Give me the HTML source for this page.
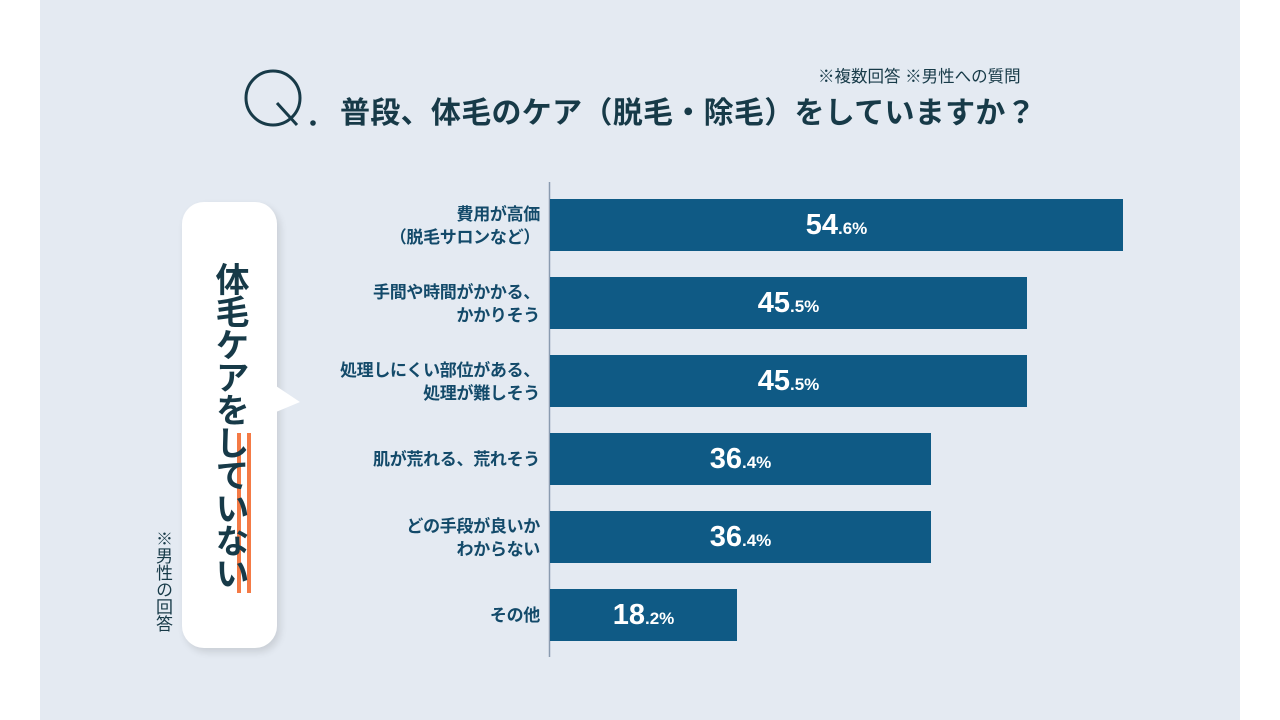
<!DOCTYPE html>
<html><head><meta charset="utf-8"><style>
body{margin:0;width:1280px;height:720px;background:#fff;position:relative;overflow:hidden;font-family:"Liberation Sans","Noto Sans CJK JP",sans-serif;}
.panel{position:absolute;left:40px;top:0;width:1200px;height:720px;background:#e4eaf2;}
.abs{position:absolute;}
.title{left:340px;top:88px;font-size:30px;font-weight:bold;color:#173a48;white-space:nowrap;letter-spacing:0.3px;}
.note{left:818px;top:63px;font-size:16.5px;color:#173a48;white-space:nowrap;}
.bar{position:absolute;left:550px;height:52px;background:#0f5a85;color:#fff;font-weight:bold;display:flex;align-items:center;justify-content:center;}
.bar b{font-size:29px;}.bar s{text-decoration:none;font-size:17px;margin-top:8px;}
.lab{position:absolute;right:740px;text-align:right;font-size:17px;font-weight:bold;color:#134a6a;line-height:23px;white-space:nowrap;letter-spacing:-0.3px;}
.bubble{left:182px;top:202px;width:95px;height:446px;background:#fff;border-radius:22px;box-shadow:3px 4px 8px rgba(0,0,0,0.12);}
.vt{left:210px;top:262px;writing-mode:vertical-rl;font-size:34px;font-weight:bold;color:#173a48;line-height:38px;letter-spacing:-1.3px;}
.vn{left:150px;top:530px;writing-mode:vertical-rl;font-size:17px;color:#173a48;}
</style></head><body>
<div class="panel"></div>
<svg class="abs" style="left:0;top:0" width="1280" height="720">
<circle cx="273" cy="98" r="27" fill="none" stroke="#173a48" stroke-width="3"/>
<line x1="277" y1="103" x2="297" y2="125" stroke="#173a48" stroke-width="3"/>
<circle cx="313" cy="123" r="2.8" fill="#173a48"/>
<line x1="549.5" y1="182" x2="549.5" y2="657" stroke="#8a9bb0" stroke-width="1.5"/>
</svg>
<div class="abs note">※複数回答 ※男性への質問</div>
<div class="abs title">普段、体毛のケア（脱毛・除毛）をしていますか？</div>
<div class="abs bubble"></div>
<svg class="abs" style="left:0;top:0" width="300" height="720">
<polygon points="276,386 300,402 276,412" fill="#fff"/>
<rect x="237" y="433" width="4" height="160" fill="#f47a45"/>
<rect x="247" y="433" width="4" height="160" fill="#f47a45"/>
</svg>
<div class="abs vt">体毛ケアをしていない</div>
<div class="abs vn">※男性の回答</div>
<div class="bar" style="top:199px;width:573px"><b>54</b><s>.6%</s></div>
<div class="bar" style="top:277px;width:477px"><b>45</b><s>.5%</s></div>
<div class="bar" style="top:355px;width:477px"><b>45</b><s>.5%</s></div>
<div class="bar" style="top:433px;width:381px"><b>36</b><s>.4%</s></div>
<div class="bar" style="top:511px;width:381px"><b>36</b><s>.4%</s></div>
<div class="bar" style="top:589px;width:187px"><b>18</b><s>.2%</s></div>
<div class="lab" style="top:203px">費用が高価<br>（脱毛サロンなど）</div>
<div class="lab" style="top:281px">手間や時間がかかる、<br>かかりそう</div>
<div class="lab" style="top:359px">処理しにくい部位がある、<br>処理が難しそう</div>
<div class="lab" style="top:448px">肌が荒れる、荒れそう</div>
<div class="lab" style="top:515px">どの手段が良いか<br>わからない</div>
<div class="lab" style="top:604px">その他</div>
</body></html>
